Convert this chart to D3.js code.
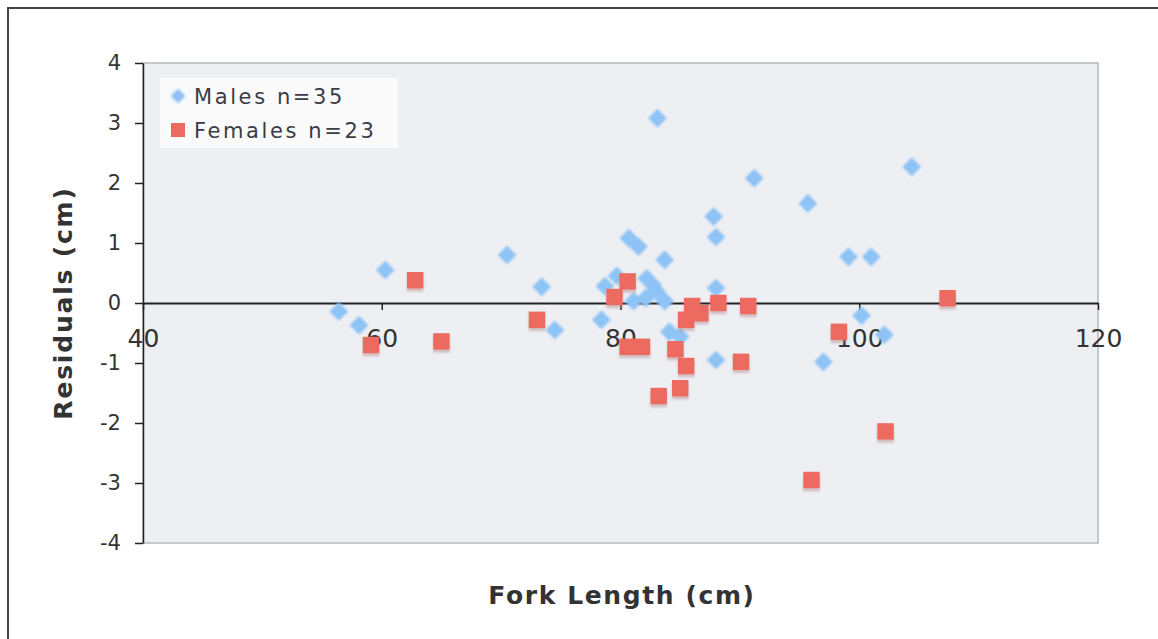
<!DOCTYPE html>
<html>
<head>
<meta charset="utf-8">
<script src="https://cdn.jsdelivr.net/npm/d3@7"></script>
<style>
  body { margin: 0; background: #fff; }
  svg text { font-family: "DejaVu Sans", Verdana, sans-serif; fill: #333; }
</style>
</head>
<body>
<svg id="chart"></svg>
<script>
// residuals: [fork length, residual]
const malesLength = [56.4, 58.1, 60.3, 70.5, 73.4, 74.5, 78.4, 78.7, 79.7, 80.7, 81.5, 81.1, 82.2, 82.7, 83.0, 82.1, 83.1, 83.7, 83.7, 84.1, 85.0, 87.8, 88.0, 88.0, 88.0, 91.2, 95.7, 97.0, 99.1, 101.0, 100.2, 102.1, 104.4];
const malesResid = [-0.14, -0.37, 0.55, 0.80, 0.27, -0.45, -0.28, 0.28, 0.45, 1.08, 0.94, 0.03, 0.41, 0.30, 0.20, 0.08, 3.08, 0.72, 0.03, -0.48, -0.56, 1.44, 1.10, 0.25, -0.95, 2.08, 1.66, -0.98, 0.77, 0.77, -0.21, -0.53, 2.27];

const femalesLength = [59.1, 62.8, 65.0, 73.0, 79.5, 80.6, 80.6, 81.8, 83.2, 84.6, 85.0, 85.5, 85.5, 86.0, 86.7, 88.2, 90.1, 90.7, 96.0, 98.3, 102.2, 107.4];
const femalesResid = [-0.70, 0.38, -0.64, -0.28, 0.10, 0.36, -0.73, -0.73, -1.55, -0.77, -1.42, -1.05, -0.28, -0.05, -0.17, 0.00, -0.98, -0.05, -2.95, -0.48, -2.14, 0.08];

const seriesNames = ["Males n=35", "Females n=23"];
const xTicks = [40, 60, 80, 100, 120];
const yTicks = [-4, -3, -2, -1, 0, 1, 2, 3, 4];

const width = 1158;
const height = 639;

const males = malesLength.map((v, i) => ({ x: v, y: malesResid[i] }));
const females = femalesLength.map((v, i) => ({ x: v, y: femalesResid[i] }));

const svg = d3.select("#chart").attr("width", width).attr("height", height);

const defs = svg.append("defs");
defs.append("filter").attr("id", "soft")
  .attr("x", "-50%").attr("y", "-50%").attr("width", "200%").attr("height", "200%")
  .append("feGaussianBlur").attr("stdDeviation", 1.3);
defs.append("filter").attr("id", "shadow")
  .attr("x", "-50%").attr("y", "-50%").attr("width", "200%").attr("height", "200%")
  .append("feDropShadow")
  .attr("dx", 0).attr("dy", 3).attr("stdDeviation", 1)
  .attr("flood-color", "#b08080").attr("flood-opacity", 0.45);

// outer frame (only left and top edges are in view)
svg.append("rect")
  .attr("x", 8).attr("y", 8).attr("width", 1300).attr("height", 800)
  .attr("fill", "none").attr("stroke", "#444").attr("stroke-width", 2);

const xScale = d3.scaleLinear().domain([40, 120]).range([143, 1098]);
const yScale = d3.scaleLinear().domain([-4, 4]).range([543, 63]);

// plot area
svg.append("rect")
  .attr("x", xScale(40)).attr("y", yScale(4))
  .attr("width", xScale(120) - xScale(40))
  .attr("height", yScale(-4) - yScale(4))
  .attr("fill", "#edeff3").attr("stroke", "#b4b8bc").attr("stroke-width", 1.5);

// y axis
const yAxis = d3.axisLeft(yScale).tickValues(yTicks).tickSize(8).tickSizeOuter(0).tickPadding(14)
  .tickFormat((d) => String(d));
const gy = svg.append("g")
  .attr("transform", "translate(" + xScale(40) + ",0)")
  .call(yAxis);
gy.selectAll("text").style("font-size", "21px");
gy.select(".domain").attr("stroke", "#222").attr("stroke-width", 1.5);
gy.selectAll(".tick line").attr("stroke", "#222").attr("stroke-width", 1.5);

// x axis crosses at zero
const xAxis = d3.axisBottom(xScale).tickValues(xTicks).tickSize(7).tickSizeOuter(0).tickPadding(19);
const gx = svg.append("g")
  .attr("transform", "translate(0," + yScale(0) + ")")
  .call(xAxis);
gx.selectAll("text").style("font-size", "25px");
gx.select(".domain").attr("stroke", "#222").attr("stroke-width", 2);
gx.selectAll(".tick line").attr("stroke", "#222").attr("stroke-width", 1.5);

// points
const diamond = d3.symbol().type(d3.symbolSquare).size(175);
const square = d3.symbol().type(d3.symbolSquare).size(270);

svg.append("g").attr("filter", "url(#soft)")
  .selectAll("path")
  .data(males)
  .enter()
  .append("path")
  .attr("d", diamond)
  .attr("transform", (d) => "translate(" + xScale(d.x) + "," + yScale(d.y) + ") rotate(45)")
  .attr("fill", "#8dc3f5");

svg.append("g").attr("filter", "url(#shadow)")
  .selectAll("path")
  .data(females)
  .enter()
  .append("path")
  .attr("d", square)
  .attr("transform", (d) => "translate(" + xScale(d.x) + "," + yScale(d.y) + ")")
  .attr("fill", "#ec6b60");

// legend
const legend = svg.append("g");
legend.append("rect")
  .attr("x", 160).attr("y", 78).attr("width", 238).attr("height", 70)
  .attr("fill", "#fafafa");
legend.append("path")
  .attr("d", d3.symbol().type(d3.symbolSquare).size(110))
  .attr("transform", "translate(178,96) rotate(45)")
  .attr("fill", "#8dc3f5").attr("filter", "url(#soft)");
legend.append("path")
  .attr("d", d3.symbol().type(d3.symbolSquare).size(196))
  .attr("transform", "translate(178,130)")
  .attr("fill", "#ec6b60");
legend.selectAll("text.lbl")
  .data(seriesNames)
  .enter()
  .append("text")
  .attr("class", "lbl")
  .attr("x", 194)
  .attr("y", (d, i) => 96 + i * 34)
  .attr("dy", "0.36em")
  .style("font-size", "21px")
  .style("letter-spacing", "2.6px")
  .style("fill", "#3a3a48")
  .text((d) => d);

// axis titles
svg.append("text")
  .attr("transform", "translate(72,303) rotate(-90)")
  .attr("text-anchor", "middle")
  .style("font-size", "25px").style("font-weight", "bold").style("letter-spacing", "1.8px")
  .text("Residuals (cm)");

svg.append("text")
  .attr("x", 622).attr("y", 604)
  .attr("text-anchor", "middle")
  .style("font-size", "25px").style("font-weight", "bold").style("letter-spacing", "1.6px")
  .text("Fork Length (cm)");
</script>
</body>
</html>
